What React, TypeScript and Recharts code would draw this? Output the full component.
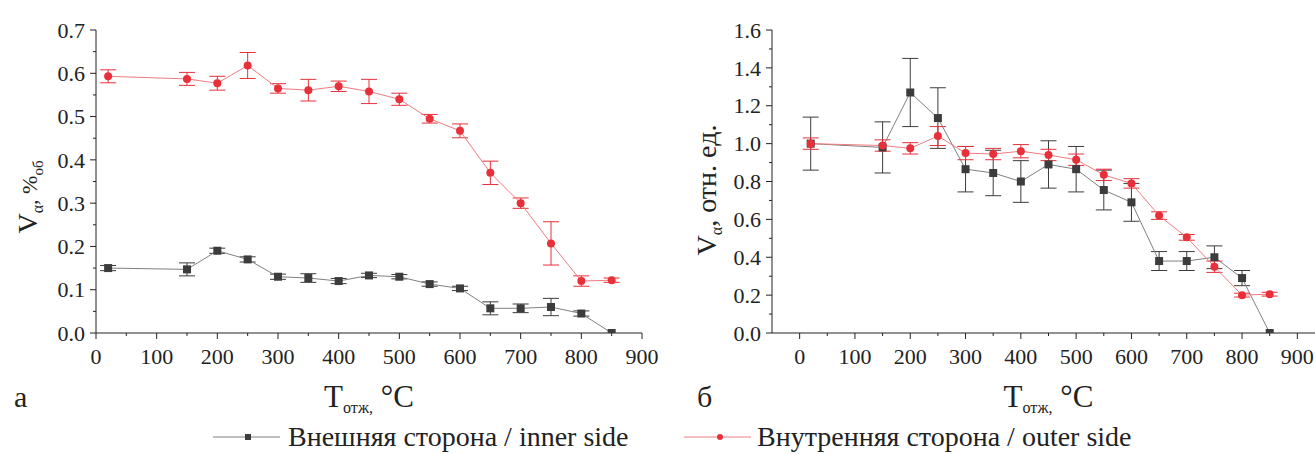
import React from "react"
import { LineChart, Line, XAxis, YAxis, ErrorBar } from "recharts"

// annealing temperature, °C
const temps = [20, 150, 200, 250, 300, 350, 400, 450, 500, 550, 600, 650, 700, 750, 800, 850]

// panel а: absolute content, %об
const innerAbs = [0.15, 0.147, 0.19, 0.17, 0.13, 0.127, 0.12, 0.133, 0.13, 0.113, 0.103, 0.057, 0.057, 0.06, 0.045, 0.0]
const innerAbsErr = [0.006, 0.015, 0.006, 0.006, 0.006, 0.01, 0.006, 0.005, 0.005, 0.005, 0.005, 0.015, 0.01, 0.02, 0.006, 0]
const outerAbs = [0.593, 0.587, 0.577, 0.618, 0.565, 0.561, 0.57, 0.558, 0.54, 0.495, 0.467, 0.37, 0.3, 0.207, 0.12, 0.122]
const outerAbsErr = [0.015, 0.015, 0.016, 0.03, 0.011, 0.025, 0.012, 0.028, 0.014, 0.01, 0.016, 0.027, 0.012, 0.05, 0.012, 0.005]

// panel б: relative units
const innerRel = [1.0, 0.98, 1.27, 1.135, 0.865, 0.845, 0.8, 0.89, 0.865, 0.755, 0.69, 0.38, 0.38, 0.4, 0.29, 0.0]
const innerRelErr = [0.14, 0.135, 0.18, 0.16, 0.12, 0.12, 0.11, 0.125, 0.12, 0.105, 0.1, 0.05, 0.05, 0.06, 0.04, 0]
const outerRel = [1.0, 0.99, 0.975, 1.04, 0.95, 0.945, 0.96, 0.94, 0.915, 0.835, 0.79, 0.62, 0.505, 0.35, 0.2, 0.205]
const outerRelErr = [0.03, 0.03, 0.03, 0.05, 0.035, 0.03, 0.035, 0.03, 0.03, 0.03, 0.025, 0.02, 0.015, 0.03, 0.01, 0.01]

const xTicks = [0, 50, 100, 150, 200, 250, 300, 350, 400, 450, 500, 550, 600, 650, 700, 750, 800, 850, 900]
const yTicksA = [0, 0.05, 0.1, 0.15, 0.2, 0.25, 0.3, 0.35, 0.4, 0.45, 0.5, 0.55, 0.6, 0.65, 0.7]
const yTicksB = [0, 0.1, 0.2, 0.3, 0.4, 0.5, 0.6, 0.7, 0.8, 0.9, 1.0, 1.1, 1.2, 1.3, 1.4, 1.5, 1.6]

const dataA = temps.map((t, i) => ({
  t,
  inner: innerAbs[i],
  innerErr: innerAbsErr[i],
  outer: outerAbs[i],
  outerErr: outerAbsErr[i],
}))

const dataB = temps.map((t, i) => ({
  t,
  inner: innerRel[i],
  innerErr: innerRelErr[i],
  outer: outerRel[i],
  outerErr: outerRelErr[i],
}))

const FONT = "Liberation Serif, serif"
const AXIS = "#222"
const BLACK = "#3c3c3c"
const BLACK_LINE = "#808080"
const RED = "#e8303a"
const RED_LINE = "#f07c80"
const TICK_SIZE = 6
const X_MARGIN = 8
const Y_MARGIN = 6

const XTick = (props: any) => {
  const { x, y, payload } = props
  const v = payload.value
  const major = v % 100 === 0
  const axisY = y - TICK_SIZE - X_MARGIN
  return (
    <g>
      <line x1={x} x2={x} y1={axisY} y2={axisY + (major ? 6 : 3)} stroke={AXIS} />
      {major && (
        <text x={x} y={axisY + 31} textAnchor="middle" fontSize={22} fontFamily={FONT} fill="#222">
          {v}
        </text>
      )}
    </g>
  )
}

const makeYTick = (step: number) => (props: any) => {
  const { x, y, payload } = props
  const v = payload.value
  const major = Math.abs(v / step - Math.round(v / step)) < 1e-6
  const axisX = x + TICK_SIZE + Y_MARGIN
  return (
    <g>
      <line x1={axisX} x2={axisX - (major ? 6 : 3)} y1={y} y2={y} stroke={AXIS} />
      {major && (
        <text x={axisX - 11} y={y} dy="0.35em" textAnchor="end" fontSize={22} fontFamily={FONT} fill="#222">
          {v.toFixed(1)}
        </text>
      )}
    </g>
  )
}

const YTickA = makeYTick(0.1)
const YTickB = makeYTick(0.2)

const XTitle = (props: any) => {
  const { viewBox } = props
  const cx = viewBox.x + viewBox.width / 2
  return (
    <text x={cx} y={407} textAnchor="middle" fontSize={31} fontFamily={FONT} fill="#222">
      T
      <tspan fontSize={16} dy={6}>отж,</tspan>
      <tspan dy={-6}> °C</tspan>
    </text>
  )
}

const YTitle = (props: any) => {
  const { cx, cy, sub, rest, restSize, restSub } = props
  return (
    <text
      x={cx}
      y={cy}
      transform={`rotate(-90, ${cx}, ${cy})`}
      textAnchor="middle"
      fontSize={28}
      fontFamily={FONT}
      fill="#222"
    >
      V
      <tspan fontSize={16} dy={6}>{sub}</tspan>
      <tspan dy={-6} fontSize={restSize}>{rest}</tspan>
      {restSub && (
        <tspan fontSize={15} dy={6}>{restSub}</tspan>
      )}
    </text>
  )
}

const SquareDot = (props: any) => {
  const { cx, cy, index } = props
  return <rect key={`sq-${index}`} x={cx - 4} y={cy - 4} width={8} height={8} fill={BLACK} />
}

function Panel({ data, xDomain, yDomain, yTicks, YTick, width, yWidth, marginRight }: any) {
  return (
    <LineChart
      width={width}
      height={454}
      data={data}
      margin={{ top: 30, right: marginRight, left: 0, bottom: 81 }}
    >
      <XAxis
        type="number"
        dataKey="t"
        domain={xDomain}
        ticks={xTicks}
        interval={0}
        allowDataOverflow
        tickSize={TICK_SIZE}
        tickMargin={X_MARGIN}
        tickLine={false}
        tick={<XTick />}
        height={40}
        axisLine={{ stroke: AXIS }}
        label={<XTitle />}
      />
      <YAxis
        type="number"
        domain={yDomain}
        ticks={yTicks}
        interval={0}
        allowDataOverflow
        tickSize={TICK_SIZE}
        tickMargin={Y_MARGIN}
        tickLine={false}
        tick={<YTick />}
        width={yWidth}
        axisLine={{ stroke: AXIS }}
      />
      <Line
        dataKey="inner"
        stroke={BLACK_LINE}
        strokeWidth={1}
        dot={<SquareDot />}
        activeDot={false}
        isAnimationActive={false}
      >
        <ErrorBar dataKey="innerErr" direction="y" width={8} stroke={BLACK} strokeWidth={1} isAnimationActive={false} />
      </Line>
      <Line
        dataKey="outer"
        stroke={RED_LINE}
        strokeWidth={1}
        dot={{ r: 4, fill: RED, stroke: "none" }}
        activeDot={false}
        isAnimationActive={false}
      >
        <ErrorBar dataKey="outerErr" direction="y" width={8} stroke={RED} strokeWidth={1} isAnimationActive={false} />
      </Line>
    </LineChart>
  )
}

export default function App() {
  return (
    <div
      style={{
        position: "absolute",
        left: 0,
        top: 0,
        width: 1315,
        height: 454,
        overflow: "hidden",
        background: "#fff",
        fontFamily: FONT,
        color: "#222",
      }}
    >
      <div style={{ position: "absolute", left: 0, top: 0 }}>
        <Panel
          data={dataA}
          xDomain={[0, 900]}
          yDomain={[0, 0.7]}
          yTicks={yTicksA}
          YTick={YTickA}
          width={660}
          yWidth={96}
          marginRight={18}
        />
      </div>
      <div style={{ position: "absolute", left: 680, top: 0 }}>
        <Panel
          data={dataB}
          xDomain={[-50, 950]}
          yDomain={[0, 1.6]}
          yTicks={yTicksB}
          YTick={YTickB}
          width={660}
          yWidth={92}
          marginRight={15}
        />
      </div>
      <svg width={1315} height={454} style={{ position: "absolute", left: 0, top: 0, pointerEvents: "none" }}>
        <YTitle cx={37} cy={197} sub="α" rest=", %" restSize={22} restSub="об" />
        <YTitle cx={716} cy={190} sub="α" rest=", отн. ед." restSize={28} />
        <text x={14} y={407} fontSize={30} fontFamily={FONT} fill="#222">а</text>
        <text x={697} y={407} fontSize={30} fontFamily={FONT} fill="#222">б</text>
        <g>
          <line x1={213} x2={280} y1={437} y2={437} stroke={BLACK_LINE} strokeWidth={1} />
          <rect x={245} y={434} width={6} height={6} fill={BLACK} />
          <text x={288} y={446} fontSize={28} fontFamily={FONT} fill="#222">
            Внешняя сторона / inner side
          </text>
          <line x1={684} x2={751} y1={437} y2={437} stroke={RED_LINE} strokeWidth={1} />
          <circle cx={720} cy={437} r={3} fill={RED} />
          <text x={757} y={446} fontSize={28} fontFamily={FONT} fill="#222">
            Внутренняя сторона / outer side
          </text>
        </g>
      </svg>
    </div>
  )
}
